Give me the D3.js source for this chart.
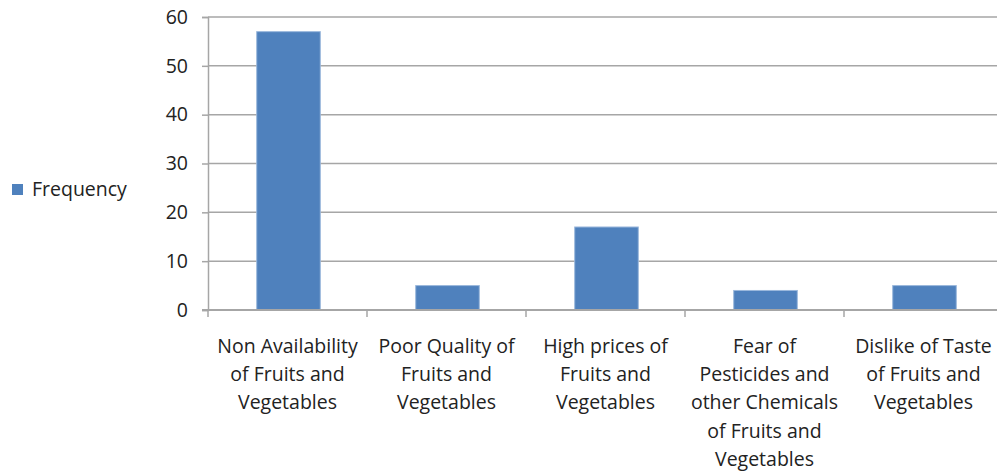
<!DOCTYPE html>
<html lang="en">
<head>
  <meta charset="UTF-8">
  <script src="https://d3js.org/d3.v7.min.js"></script>
  <title>Frequency</title>
  <style>
    body { margin: 0; background: #fff; }
    text { font-family: 'Open Sans', Lato, sans-serif; fill: #222; }
  </style>
</head>
<body>
  <svg width="997" height="472"></svg>
  <script>
    const categories = [
      ['Non Availability', 'of Fruits and', 'Vegetables'],
      ['Poor Quality of', 'Fruits and', 'Vegetables'],
      ['High prices of', 'Fruits and', 'Vegetables'],
      ['Fear of', 'Pesticides and', 'other Chemicals', 'of Fruits and', 'Vegetables'],
      ['Dislike of Taste', 'of Fruits and', 'Vegetables']
    ]
    const frequency = [57, 5, 17, 4, 5]
    const yTicks = [0, 10, 20, 30, 40, 50, 60]
    const seriesName = 'Frequency'

    const BAR_COLOR = '#4f81bd'
    const BAR_EDGE = '#9bb8dc'
    const GRID_COLOR = '#a6a6a6'
    const FONT = "'Open Sans', Lato, sans-serif"

    const svg = d3.select('svg')
    const plotLeft = 208, plotRight = 1003, plotTop = 17, plotBottom = 310

    const x = d3.scaleBand()
      .domain(d3.range(categories.length))
      .range([plotLeft, plotRight])
      .paddingInner(0.6)
      .paddingOuter(0.3)

    const y = d3.scaleLinear().domain([0, 60]).range([plotBottom, plotTop])

    // gridlines
    svg.append('g')
      .selectAll('line')
      .data(yTicks.filter(d => d > 0))
      .join('line')
      .attr('x1', plotLeft).attr('x2', plotRight)
      .attr('y1', d => y(d)).attr('y2', d => y(d))
      .attr('stroke', GRID_COLOR)
      .attr('stroke-width', 1.5)

    // y axis
    const yAxis = svg.append('g')
      .attr('transform', `translate(${plotLeft},0)`)
      .call(d3.axisLeft(y).tickValues(yTicks).tickSize(6).tickPadding(14))
    yAxis.select('.domain').attr('stroke', GRID_COLOR).attr('stroke-width', 1.5)
    yAxis.selectAll('.tick line').attr('stroke', GRID_COLOR).attr('stroke-width', 1.5)
    yAxis.selectAll('.tick text')
      .style('font-family', FONT)
      .style('font-size', '19.5px')
      .attr('fill', '#222')

    // bars
    svg.append('g')
      .selectAll('rect')
      .data(frequency)
      .join('rect')
      .attr('x', (d, i) => x(i) + 1)
      .attr('width', x.bandwidth())
      .attr('y', d => y(d))
      .attr('height', d => plotBottom - y(d))
      .attr('fill', BAR_COLOR)
      .attr('stroke', BAR_EDGE)
      .attr('stroke-width', 1)

    // x axis
    const step = (plotRight - plotLeft) / categories.length
    const xAxis = svg.append('g')
    xAxis.append('line')
      .attr('x1', plotLeft - 6).attr('x2', plotRight)
      .attr('y1', plotBottom).attr('y2', plotBottom)
      .attr('stroke', GRID_COLOR).attr('stroke-width', 2)
    xAxis.selectAll('.xtick')
      .data(d3.range(categories.length + 1))
      .join('line')
      .attr('class', 'xtick')
      .attr('x1', i => plotLeft + i * step).attr('x2', i => plotLeft + i * step)
      .attr('y1', plotBottom).attr('y2', plotBottom + 7)
      .attr('stroke', GRID_COLOR).attr('stroke-width', 1.5)

    const labels = xAxis.selectAll('.xlabel')
      .data(categories)
      .join('text')
      .attr('class', 'xlabel')
      .attr('text-anchor', 'middle')
      .style('font-size', '19.5px')
    labels.selectAll('tspan')
      .data((d, i) => d.map(line => ({ line, i })))
      .join('tspan')
      .attr('x', d => plotLeft + (d.i + 0.5) * step)
      .attr('y', (d, j) => 353 + j * 28.2)
      .text(d => d.line)

    // legend
    const legend = svg.append('g').attr('transform', 'translate(12,184)')
    legend.append('rect')
      .attr('width', 11).attr('height', 11)
      .attr('fill', BAR_COLOR)
    legend.append('text')
      .attr('x', 20).attr('y', 12)
      .style('font-size', '19.5px')
      .text(seriesName)
  </script>
</body>
</html>
